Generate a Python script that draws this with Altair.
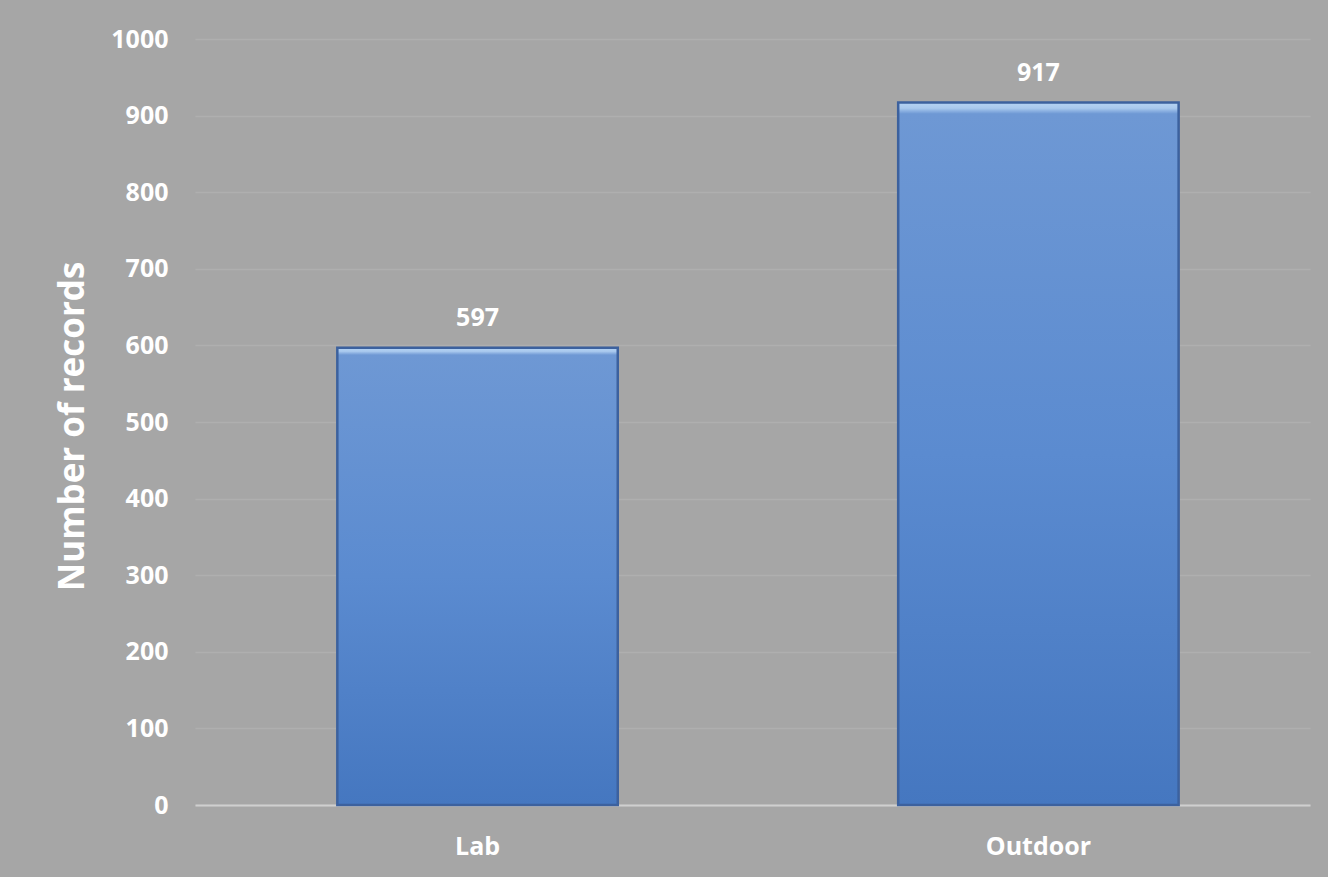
import altair as alt
import pandas as pd

categories = ["Lab", "Outdoor"]
records = [597, 917]

df = pd.DataFrame({"category": categories, "records": records})

FONT = "Open Sans"

bar_fill = alt.Gradient(
    gradient="linear",
    stops=[
        alt.GradientStop(color="#b5d3f3", offset=0),
        alt.GradientStop(color="#a9c9ee", offset=0.008),
        alt.GradientStop(color="#6e98d4", offset=0.016),
        alt.GradientStop(color="#5b8bd0", offset=0.5),
        alt.GradientStop(color="#4577c0", offset=1),
    ],
    x1=0, x2=0, y1=0, y2=1,
)

x = alt.X(
    "category:N",
    sort=categories,
    scale=alt.Scale(paddingInner=0.5, paddingOuter=0.244, align=0.52),
    axis=alt.Axis(
        title=None, labelAngle=0, ticks=False, labelPadding=29,
        labelFontSize=25, labelFontWeight="bold", labelColor="white",
        labelFont=FONT, domainColor="#cfcfcf", domainWidth=2, grid=False,
    ),
)
y = alt.Y(
    "records:Q",
    scale=alt.Scale(domain=[0, 1000]),
    axis=alt.Axis(
        title="Number of records", values=list(range(0, 1001, 100)), format="d",
        ticks=False, domain=False, labelPadding=27,
        labelFontSize=25, labelFontWeight="bold", labelColor="white", labelFont=FONT,
        titleFontSize=35, titleFontWeight="bold", titleColor="white", titleFont=FONT,
        titleAngle=270, titleX=-123, titleY=387, titleAlign="center", titleBaseline="middle",
        gridColor="#afafaf", gridWidth=1.5,
    ),
)

bars = alt.Chart(df).mark_bar(
    fill=bar_fill, stroke="#3c619e", strokeWidth=2.5
).encode(x=x, y=y)

labels = alt.Chart(df).mark_text(
    dy=-30, baseline="middle", fontSize=25, fontWeight="bold", color="white", font=FONT
).encode(x=alt.X("category:N", sort=categories), y="records:Q", text="records:Q")

chart = (
    alt.layer(bars, labels)
    .properties(
        width=1115, height=766,
        autosize=alt.AutoSizeParams(type="none"),
        padding={"left": 195, "top": 39, "right": 18, "bottom": 72},
        background="#a6a6a6",
    )
    .configure_view(stroke=None)
)

chart.save("out.html", embed_options={"renderer": "svg", "actions": False})
